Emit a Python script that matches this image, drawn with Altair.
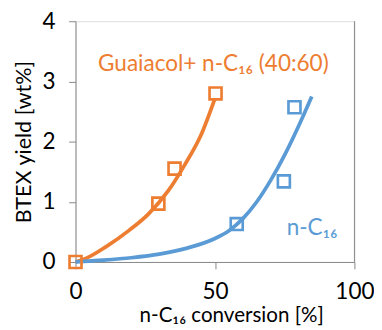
import altair as alt
import pandas as pd

# measured points
gua_x = [0, 29.7, 35.5, 50.2]
gua_y = [0, 0.97, 1.55, 2.80]
c16_x = [57.8, 74.7, 78.5]
c16_y = [0.63, 1.34, 2.57]

# trend curves
gua_cx = [0, 2.8, 11, 19.2, 26.2, 33.2, 39.1, 44.9, 50]
gua_cy = [0, 0.04, 0.255, 0.525, 0.80, 1.18, 1.61, 2.10, 2.72]
c16_cx = [0, 10, 20, 30, 40, 50, 55, 60, 65, 70, 75, 80, 84.7]
c16_cy = [0, 0.03, 0.07, 0.13, 0.23, 0.39, 0.52, 0.72, 1.0, 1.36, 1.78, 2.26, 2.75]

ORANGE = "#ED7D31"
BLUE = "#5B9BD5"
FONT = "Lato"

pts = pd.DataFrame({"x": gua_x + c16_x, "y": gua_y + c16_y,
                    "s": ["g"] * len(gua_x) + ["c"] * len(c16_x)})
curves = pd.DataFrame({"x": gua_cx + c16_cx, "y": gua_cy + c16_cy,
                       "s": ["g"] * len(gua_cx) + ["c"] * len(c16_cx)})

xs = alt.Scale(domain=[0, 100], nice=False)
ys = alt.Scale(domain=[0, 4], nice=False)
color = alt.Scale(domain=["g", "c"], range=[ORANGE, BLUE])

xax = alt.Axis(values=[0, 50, 100], format="d", grid=False, domainColor="#868686", tickColor="#868686",
               tickSize=7, labelFont=FONT, labelFontSize=23, labelColor="#000000",
               labelPadding=12, labelFlush=False, title="n-C₁₆ conversion [%]",
               titleFont=FONT, titleFontSize=21, titleFontWeight="normal", titleColor="#000000",
               titleX=159, titleY=44, titleBaseline="top")
yax = alt.Axis(values=[0, 1, 2, 3, 4], format="d", grid=False, domainColor="#868686", tickColor="#868686",
               tickSize=7, labelFont=FONT, labelFontSize=23, labelColor="#000000",
               labelPadding=14, title="BTEX yield [wt%]",
               titleFont=FONT, titleFontSize=22, titleFontWeight="normal", titleColor="#000000",
               titleX=-53, titleY=123, titleBaseline="middle", titleAngle=-90)

base_x = alt.X("x:Q", scale=xs, axis=xax)
base_y = alt.Y("y:Q", scale=ys, axis=yax)

lines = alt.Chart(curves).mark_line(strokeWidth=3.8, interpolate="monotone").encode(
    x=base_x, y=base_y,
    color=alt.Color("s:N", scale=color, legend=None), detail="s:N")

squares = alt.Chart(pts).mark_point(shape="square", filled=False, size=150, strokeWidth=2.7, opacity=1).encode(
    x=alt.X("x:Q", scale=xs), y=alt.Y("y:Q", scale=ys),
    color=alt.Color("s:N", scale=color, legend=None))

border = alt.Chart(pd.DataFrame({"x": [100], "y": [0], "y2": [4]})).mark_rule(
    color="#868686", strokeWidth=1).encode(x=alt.X("x:Q", scale=xs), y=alt.Y("y:Q", scale=ys), y2="y2:Q")

lbl = pd.DataFrame({"x": [8.1, 75.7], "y": [3.28, 0.57],
                    "t": ["Guaiacol+ n-C₁₆ (40:60)", "n-C₁₆"], "s": ["g", "c"]})
labels = alt.Chart(lbl).mark_text(font=FONT, fontSize=23, align="left", baseline="middle").encode(
    x=alt.X("x:Q", scale=xs), y=alt.Y("y:Q", scale=ys), text="t:N",
    color=alt.Color("s:N", scale=color, legend=None))

chart = alt.layer(border, lines, squares, labels).properties(
    width=285, height=246,
    autosize=alt.AutoSizeParams(type="none"),
    padding={"left": 69, "top": 10, "right": 20, "bottom": 66},
).configure_view(stroke=None).configure(background="white")

chart.save("out.html", embed_options={"renderer": "svg", "actions": False})
